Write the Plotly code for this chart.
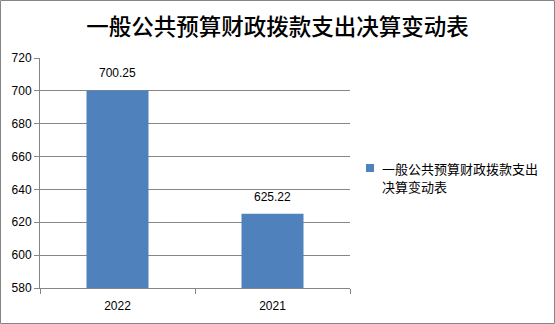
import plotly.graph_objects as go

categories = ["2022", "2021"]
values = [700.25, 625.22]
series_name = "一般公共预算财政拨款支出<br>决算变动表"
title_text = "一般公共预算财政拨款支出决算变动表"

W, H = 555, 324
L, R, T, B = 40, 205, 58, 36
pw, ph = W - L - R, H - T - B

fig = go.Figure()
fig.add_trace(go.Bar(
    x=categories, y=values, name=series_name,
    marker=dict(color="#4F81BD", line=dict(width=0)),
    width=0.4, showlegend=False,
))
for i, v in enumerate(values):
    fig.add_annotation(x=i, y=v, text=f"{v:.2f}", showarrow=False, yanchor="bottom", yshift=8,
                       font=dict(family="Liberation Sans, Arial", size=12, color="#000000"))

fig.update_layout(
    width=W, height=H,
    margin=dict(l=L, r=R, t=T, b=B),
    paper_bgcolor="white", plot_bgcolor="white",
    title=dict(text=title_text, x=0.5, xref="container", xanchor="center",
               y=1 - 27 / H, yanchor="middle",
               font=dict(family="Noto Sans CJK SC", size=22.5, color="#000000", weight=500)),
    showlegend=False,
)
fig.update_yaxes(range=[580, 720], dtick=20, showgrid=True, gridcolor="#868686", gridwidth=1,
                 showline=True, linecolor="#868686", ticks="outside", ticklen=5, tickcolor="#868686",
                 tickfont=dict(family="Liberation Sans, Arial", size=12, color="#000000"),
                 zeroline=False, fixedrange=True)
fig.update_xaxes(type="category", range=[-0.5, 1.5], showline=True, linecolor="#868686",
                 ticks="outside", ticklen=5, tickcolor="#868686", tickson="boundaries",
                 ticklabelstandoff=7, showgrid=False,
                 tickfont=dict(family="Liberation Sans, Arial", size=12, color="#000000"))

# legend (manual)
fig.add_shape(type="rect", xref="paper", yref="paper",
              x0=(366 - L) / pw, x1=(374 - L) / pw,
              y0=(H - B - 172) / ph, y1=(H - B - 164) / ph,
              fillcolor="#4F81BD", line=dict(width=0))
for k, line in enumerate(series_name.split("<br>")):
    fig.add_annotation(xref="paper", yref="paper", x=(380 - L) / pw,
                       y=(H - B - (168 + 18 * k)) / ph,
                       xanchor="left", yanchor="middle", align="left", showarrow=False,
                       text=line,
                       font=dict(family="Noto Sans CJK SC", size=13, color="#000000"))

fig.add_shape(type="rect", xref="paper", yref="paper",
              x0=(-L + 0.5) / pw, x1=(W - L - 0.5) / pw,
              y0=(-B + 0.5) / ph, y1=1 + (T - 0.5) / ph,
              line=dict(color="#868686", width=1), fillcolor="rgba(0,0,0,0)", layer="below")

fig.write_html("out.html")
